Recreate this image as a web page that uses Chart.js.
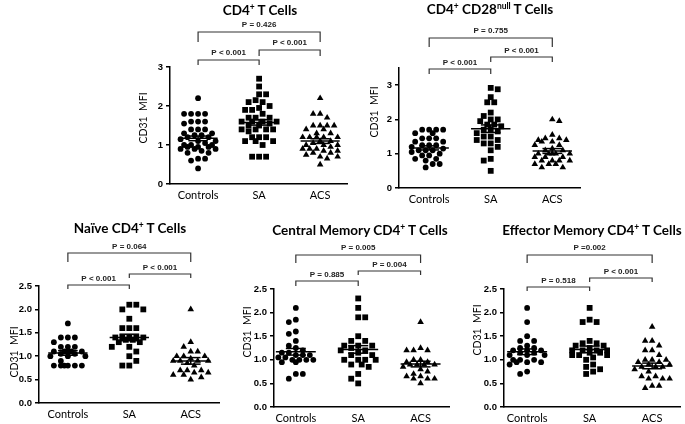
<!DOCTYPE html>
<html>
<head>
<meta charset="utf-8">
<script src="https://cdn.jsdelivr.net/npm/chart.js@4"></script>
<style>
  body { margin: 0; background: #fff; width: 685px; height: 424px; position: relative; overflow: hidden; }
  canvas { position: absolute; }
  .ttl { position: absolute; width: 240px; text-align: center; font: bold 13.5px Lato, sans-serif; line-height: 16px; color: #000; white-space: nowrap; }
  .ttl sup { font-size: 8.5px; line-height: 0; vertical-align: 5px; }
</style>
</head>
<body>
<script>
const GROUPS = ['Controls', 'SA', 'ACS'];
const Y_LABEL = 'CD31  MFI';

const ticksWhole = [0, 1, 2, 3];
const ticksHalf = [0, 0.5, 1, 1.5, 2, 2.5];

// CD4+ T Cells
const cd4Controls = [2.2, 1.8, 1.8, 1.8, 1.8, 1.6, 1.6, 1.6, 1.55, 1.4, 1.4, 1.4, 1.3, 1.3, 1.25, 1.25,
  1.2, 1.2, 1.15, 1.1, 1.1, 1.05, 1.0, 1.0, 1.0, 0.95, 0.95, 0.95, 0.9, 0.9, 0.9, 0.85, 0.8, 0.8,
  0.65, 0.65, 0.6, 0.4];
const cd4SA = [2.7, 2.5, 2.3, 2.3, 2.15, 2.1, 2.1, 2.0, 1.95, 1.9, 1.9, 1.8, 1.7, 1.7, 1.7, 1.6, 1.6,
  1.6, 1.6, 1.55, 1.5, 1.5, 1.4, 1.4, 1.4, 1.4, 1.35, 1.2, 1.2, 1.2, 1.1, 1.1, 1.1, 1.0, 0.7, 0.7, 0.7];
const cd4ACS = [2.2, 1.8, 1.8, 1.7, 1.5, 1.5, 1.5, 1.5, 1.4, 1.4, 1.3, 1.3, 1.2, 1.2, 1.2, 1.2, 1.2,
  1.1, 1.1, 1.05, 1.0, 1.0, 1.0, 0.95, 0.9, 0.9, 0.9, 0.85, 0.85, 0.8, 0.8, 0.75, 0.7, 0.7, 0.65, 0.5];
const cd4Means = [1.17, 1.58, 1.10];
const cd4Sem = [0.06, 0.07, 0.06];
const cd4P = ['P < 0.001', 'P < 0.001', 'P = 0.426'];

// CD4+ CD28null T Cells
const cd28Controls = [1.7, 1.7, 1.7, 1.7, 1.6, 1.6, 1.45, 1.45, 1.45, 1.35, 1.35, 1.25, 1.25, 1.25,
  1.2, 1.15, 1.1, 1.1, 1.1, 1.05, 1.0, 0.95, 0.95, 0.85, 0.85, 0.8, 0.7, 0.7, 0.6];
const cd28SA = [2.92, 2.88, 2.65, 2.5, 2.5, 2.2, 2.1, 2.0, 2.0, 1.95, 1.85, 1.85, 1.8, 1.7, 1.7, 1.65,
  1.6, 1.5, 1.5, 1.4, 1.4, 1.3, 1.3, 1.2, 1.1, 0.85, 0.8, 0.5];
const cd28ACS = [2.0, 1.95, 1.55, 1.45, 1.45, 1.4, 1.4, 1.35, 1.35, 1.25, 1.25, 1.15, 1.1, 1.1, 1.0,
  1.0, 1.0, 1.0, 1.0, 0.9, 0.9, 0.9, 0.8, 0.8, 0.8, 0.8, 0.7, 0.7, 0.7, 0.6, 0.6];
const cd28Means = [1.17, 1.73, 1.08];
const cd28Sem = [0.06, 0.11, 0.07];
const cd28P = ['P < 0.001', 'P < 0.001', 'P = 0.755'];

// Naive CD4+ T Cells
const naiveControls = [1.7, 1.4, 1.4, 1.4, 1.3, 1.2, 1.2, 1.2, 1.1, 1.1, 1.1, 1.1, 1.1, 1.05, 1.05,
  1.0, 1.0, 1.0, 0.9, 0.8, 0.8, 0.8, 0.8, 0.8, 0.8];
const naiveSA = [2.1, 2.1, 2.0, 2.0, 1.8, 1.6, 1.6, 1.6, 1.4, 1.4, 1.4, 1.4, 1.4, 1.35, 1.35, 1.3, 1.3,
  1.2, 1.2, 1.1, 1.0, 0.9, 0.8, 0.8];
const naiveACS = [2.0, 1.3, 1.2, 1.1, 1.1, 1.0, 1.0, 1.0, 0.95, 0.9, 0.9, 0.9, 0.9, 0.85, 0.8, 0.7,
  0.7, 0.7, 0.65, 0.65, 0.6, 0.6, 0.55, 0.5];
const naiveMeans = [1.07, 1.40, 0.90];
const naiveSem = [0.05, 0.07, 0.07];
const naiveP = ['P < 0.001', 'P < 0.001', 'P = 0.064'];

// Central Memory CD4+ T Cells
const cmControls = [2.1, 1.85, 1.8, 1.6, 1.55, 1.4, 1.3, 1.25, 1.2, 1.15, 1.15, 1.1, 1.1, 1.1, 1.05,
  1.05, 1.0, 1.0, 1.0, 1.0, 0.95, 0.95, 0.7, 0.7, 0.6];
const cmSA = [2.3, 2.1, 1.9, 1.9, 1.5, 1.4, 1.4, 1.3, 1.3, 1.3, 1.25, 1.2, 1.2, 1.15, 1.1, 1.1, 1.0,
  1.0, 1.0, 1.0, 0.9, 0.9, 0.85, 0.7, 0.6, 0.5];
const cmACS = [1.8, 1.25, 1.2, 1.2, 1.2, 1.0, 1.0, 0.95, 0.95, 0.9, 0.9, 0.9, 0.9, 0.85, 0.8, 0.75,
  0.7, 0.65, 0.65, 0.6, 0.6, 0.6, 0.5];
const cmMeans = [1.17, 1.22, 0.91];
const cmSem = [0.07, 0.08, 0.06];
const cmP = ['P = 0.885', 'P = 0.004', 'P = 0.005'];

// Effector Memory CD4+ T Cells
const emControls = [2.1, 1.8, 1.5, 1.4, 1.4, 1.3, 1.25, 1.25, 1.2, 1.2, 1.2, 1.15, 1.15, 1.1, 1.1,
  1.1, 1.0, 1.0, 1.0, 0.95, 0.95, 0.95, 0.9, 0.75, 0.7];
const emSA = [2.1, 1.85, 1.8, 1.8, 1.4, 1.35, 1.35, 1.3, 1.3, 1.25, 1.2, 1.2, 1.2, 1.2, 1.15, 1.15,
  1.1, 1.1, 1.1, 1.05, 1.0, 0.9, 0.85, 0.8, 0.75, 0.7];
const emACS = [1.7, 1.4, 1.4, 1.3, 1.2, 1.2, 1.1, 1.0, 1.0, 1.0, 0.95, 0.95, 0.9, 0.9, 0.85, 0.85,
  0.85, 0.8, 0.75, 0.65, 0.65, 0.6, 0.6, 0.6, 0.45, 0.45, 0.4];
const emMeans = [1.17, 1.22, 0.87];
const emSem = [0.06, 0.07, 0.06];
const emP = ['P = 0.518', 'P < 0.001', 'P =0.002'];

const titles = [
  'CD4<sup>+</sup> T Cells',
  'CD4<sup>+</sup> CD28<sup>null</sup> T Cells',
  'Naïve CD4<sup>+</sup> T Cells',
  'Central Memory CD4<sup>+</sup> T Cells',
  'Effector Memory CD4<sup>+</sup> T Cells'
];

// layout, page pixels
const panels = [
  { title: titles[0], groups: [cd4Controls, cd4SA, cd4ACS], means: cd4Means, sem: cd4Sem, pvals: cd4P,
    yMax: 3, yTicks: ticksWhole, dec: 0,
    box: { x: 120, y: 0, w: 235, h: 205 }, plot: { l: 170, t: 67, b: 184, r: 347 }, xr: [-0.46, 2.44],
    titleAt: [260, 10], labelAt: [144, 118],
    br: [[0, 1, 60, 5, 53], [1, 2, 50, 6, 43], [0, 2, 32, 10, 25]] },
  { title: titles[1], groups: [cd28Controls, cd28SA, cd28ACS], means: cd28Means, sem: cd28Sem, pvals: cd28P,
    yMax: 3.5, yTicks: ticksWhole, dec: 0,
    box: { x: 352, y: 0, w: 236, h: 210 }, plot: { l: 399, t: 68, b: 188, r: 580 }, xr: [-0.49, 2.45],
    titleAt: [490, 9], labelAt: [375, 112],
    br: [[0, 1, 69, 5, 63], [1, 2, 57, 5, 51], [0, 2, 38, 9, 31]] },
  { title: titles[2], groups: [naiveControls, naiveSA, naiveACS], means: naiveMeans, sem: naiveSem, pvals: naiveP,
    yMax: 2.5, yTicks: ticksHalf, dec: 1,
    box: { x: 0, y: 215, w: 225, h: 209 }, plot: { l: 39, t: 286, b: 403, r: 219 }, xr: [-0.47, 2.46],
    titleAt: [130, 228], labelAt: [15, 352],
    br: [[0, 1, 285, 4, 279], [1, 2, 274, 4, 268], [0, 2, 253, 9, 247]] },
  { title: titles[3], groups: [cmControls, cmSA, cmACS], means: cmMeans, sem: cmSem, pvals: cmP,
    yMax: 2.5, yTicks: ticksHalf, dec: 1,
    box: { x: 226, y: 215, w: 228, h: 209 }, plot: { l: 274, t: 289, b: 407, r: 450 }, xr: [-0.35, 2.47],
    titleAt: [360, 230], labelAt: [248, 332],
    br: [[0, 1, 281, 5, 275], [1, 2, 271, 4, 265], [0, 2, 255, 8, 248]] },
  { title: titles[4], groups: [emControls, emSA, emACS], means: emMeans, sem: emSem, pvals: emP,
    yMax: 2.5, yTicks: ticksHalf, dec: 1,
    box: { x: 456, y: 215, w: 229, h: 209 }, plot: { l: 504, t: 289, b: 407, r: 681 }, xr: [-0.37, 2.46],
    titleAt: [592, 230], labelAt: [478, 330],
    br: [[0, 1, 287, 4, 281], [1, 2, 278, 4, 272], [0, 2, 255, 8, 248]] }
];

const STYLES = ['circle', 'rect', 'triangle'];
const RADII = [2.9, 4.1, 3.8];
const SMALL_FONT = '"Liberation Sans Narrow", "Liberation Sans", Arial, sans-serif';

// horizontal spread like a Prism dot plot (offsets in px), kept within maxOff
function swarm(values, pxY) {
  const step = 7, minDist = 6.2, maxOff = 19;
  const order = values.map((v, i) => i).sort((a, b) => values[b] - values[a]);
  const placed = [];
  const offs = new Array(values.length);
  order.forEach((i, n) => {
    const py = values[i] * pxY;
    const s = n % 2 ? 1 : -1;
    let best = 0, bestD = -1;
    for (let k = 0; k * step / 2 <= maxOff; k++) {
      const cands = k === 0 ? [0] : [s * k * step / 2, -s * k * step / 2];
      for (const c of cands) {
        const d = placed.reduce((m, p) => Math.min(m, Math.hypot(p.x - c, p.y - py)), 99);
        if (d >= minDist) { best = c; bestD = 99; break; }
        if (d > bestD) { bestD = d; best = c; }
      }
      if (bestD === 99) break;
    }
    placed.push({ x: best, y: py });
    offs[i] = best;
  });
  return offs;
}

const extras = {
  id: 'extras',
  afterDraw(chart, args, o) {
    const ctx = chart.ctx;
    const xs = chart.scales.x;
    ctx.save();
    ctx.strokeStyle = '#333';
    ctx.lineWidth = 1.2;
    ctx.fillStyle = '#222';
    ctx.font = 'bold 8px ' + SMALL_FONT;
    ctx.textAlign = 'center';
    ctx.textBaseline = 'middle';
    o.brackets.forEach(b => {
      const x1 = xs.getPixelForValue(b.from), x2 = xs.getPixelForValue(b.to);
      ctx.beginPath();
      ctx.moveTo(x1, b.y + b.drop);
      ctx.lineTo(x1, b.y);
      ctx.lineTo(x2, b.y);
      ctx.lineTo(x2, b.y + b.drop);
      ctx.stroke();
      ctx.fillText(b.text, (x1 + x2) / 2, b.ty);
    });
    ctx.fillStyle = '#000';
    ctx.font = '10.5px Lato, sans-serif';
    ctx.translate(o.labelX, o.labelY);
    ctx.rotate(-Math.PI / 2);
    ctx.fillText(Y_LABEL, 0, 0);
    ctx.restore();
  }
};

panels.forEach(p => {
  const cv = document.createElement('canvas');
  cv.width = p.box.w;
  cv.height = p.box.h;
  cv.style.left = p.box.x + 'px';
  cv.style.top = p.box.y + 'px';
  document.body.appendChild(cv);

  const t = document.createElement('div');
  t.className = 'ttl';
  t.innerHTML = p.title;
  t.style.left = (p.titleAt[0] - 120) + 'px';
  t.style.top = (p.titleAt[1] - 8) + 'px';
  document.body.appendChild(t);

  const pxX = (p.plot.r - p.plot.l) / (p.xr[1] - p.xr[0]);
  const pxY = (p.plot.b - p.plot.t) / p.yMax;

  const datasets = [];
  p.groups.forEach((vals, gi) => {
    const offs = swarm(vals, pxY);
    datasets.push({
      type: 'scatter',
      data: vals.map((v, k) => ({ x: gi + offs[k] / pxX, y: v })),
      pointStyle: STYLES[gi],
      pointRadius: RADII[gi],
      backgroundColor: '#000',
      borderWidth: 0,
      order: 1
    });
    const m = p.means[gi], s = p.sem[gi];
    const segs = [
      [gi - 0.32, m, gi + 0.32, m],
      [gi, m - s, gi, m + s],
      [gi - 0.16, m + s, gi + 0.16, m + s],
      [gi - 0.16, m - s, gi + 0.16, m - s]
    ];
    segs.forEach(sg => datasets.push({
      type: 'line',
      data: [{ x: sg[0], y: sg[1] }, { x: sg[2], y: sg[3] }],
      borderColor: '#000',
      borderWidth: 1.5,
      pointRadius: 0,
      order: 0
    }));
  });

  const brackets = p.br.map((b, i) => ({
    from: b[0], to: b[1], y: b[2] - p.box.y, drop: b[3], ty: b[4] - p.box.y, text: p.pvals[i]
  }));

  new Chart(cv, {
    type: 'scatter',
    data: { datasets },
    options: {
      responsive: false,
      animation: false,
      events: [],
      layout: { padding: { top: p.plot.t - p.box.y, right: p.box.x + p.box.w - p.plot.r, left: 0, bottom: 0 } },
      plugins: {
        legend: { display: false },
        tooltip: { enabled: false },
        extras: { brackets, labelX: p.labelAt[0] - p.box.x, labelY: p.labelAt[1] - p.box.y }
      },
      scales: {
        x: {
          type: 'linear', min: p.xr[0], max: p.xr[1],
          afterFit: a => { a.height = p.box.y + p.box.h - p.plot.b; },
          afterBuildTicks: a => { a.ticks = [0, 1, 2].map(v => ({ value: v })); },
          ticks: { callback: v => GROUPS[v], font: { family: 'Lato', size: 11 }, color: '#000', padding: 5, maxRotation: 0, autoSkip: false },
          grid: { display: true, drawOnChartArea: false, drawTicks: false },
          border: { color: '#000', width: 1.5 }
        },
        y: {
          min: 0, max: p.yMax,
          afterFit: a => { a.width = p.plot.l - p.box.x; },
          afterBuildTicks: a => { a.ticks = p.yTicks.map(v => ({ value: v })); },
          ticks: { callback: v => v.toFixed(p.dec), font: { family: SMALL_FONT, weight: 'bold', size: 9.5 }, color: '#000', padding: 3 },
          grid: { display: true, drawOnChartArea: false, drawTicks: true, tickLength: 4, color: '#000', lineWidth: 1.5 },
          border: { color: '#000', width: 1.5 }
        }
      }
    },
    plugins: [extras]
  });
});
</script>
</body>
</html>
